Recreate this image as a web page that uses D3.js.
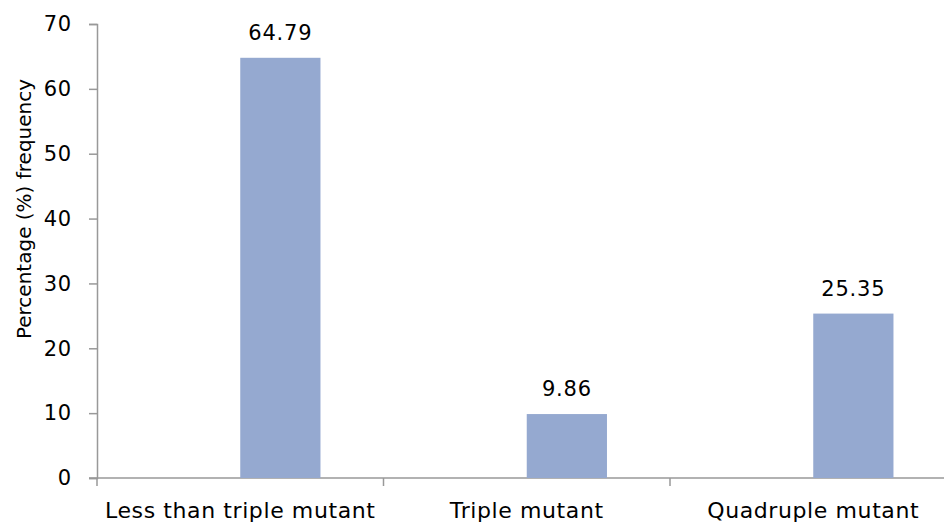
<!DOCTYPE html>
<html>
<head>
<meta charset="utf-8">
<script src="https://cdn.jsdelivr.net/npm/d3@7"></script>
<style>
  body { margin: 0; background: #fff; }
  text { font-family: "DejaVu Sans", Verdana, sans-serif; fill: #000; }
</style>
</head>
<body>
<script>
// chart data
const categories = ['Less than triple mutant', 'Triple mutant', 'Quadruple mutant'];
const values = [64.79, 9.86, 25.35];
const yTicks = [0, 10, 20, 30, 40, 50, 60, 70];

const width = 944, height = 524;
const margin = { left: 97, top: 24, bottom: 46 };

const svg = d3.select('body')
    .append('svg')
    .attr('width', width)
    .attr('height', height);

// band for each category, axis runs past the right edge like the original
const xScale = d3.scaleBand()
    .domain(categories)
    .range([margin.left, margin.left + 3 * 286.5]);

const yScale = d3.scaleLinear()
    .domain([0, 70])
    .range([height - margin.bottom, margin.top]);

const barWidth = xScale.bandwidth() * 0.28;

// y axis
const yAxis = svg.append('g')
    .attr('transform', `translate(${margin.left},0)`)
    .call(d3.axisLeft(yScale).tickValues(yTicks).tickSize(8).tickPadding(17));
yAxis.selectAll('text').style('font-size', '21px').style('letter-spacing', '0.8px');
yAxis.select('.domain').attr('stroke', '#999').attr('stroke-width', 1.5);
yAxis.selectAll('.tick line').attr('stroke', '#999').attr('stroke-width', 1.5);

// x axis with ticks on category boundaries
const xAxis = svg.append('g')
    .attr('transform', `translate(0,${yScale(0)})`);
xAxis.append('line')
    .attr('x1', margin.left - 8).attr('x2', width)
    .attr('stroke', '#999').attr('stroke-width', 1.5);
xAxis.selectAll('.bound')
    .data(categories)
    .enter().append('line')
    .attr('x1', d => xScale(d)).attr('x2', d => xScale(d))
    .attr('y1', 0).attr('y2', 8)
    .attr('stroke', '#999').attr('stroke-width', 1.5);
xAxis.selectAll('.lab')
    .data(categories)
    .enter().append('text')
    .attr('x', d => xScale(d) + xScale.bandwidth() / 2)
    .attr('y', 40)
    .attr('text-anchor', 'middle')
    .style('font-size', '22px')
    .style('letter-spacing', '0.6px')
    .text(d => d);

// bars start at the band centre
svg.selectAll('.bar')
    .data(values)
    .enter().append('rect')
    .attr('x', (d, i) => xScale(categories[i]) + xScale.bandwidth() / 2)
    .attr('y', d => yScale(d))
    .attr('width', barWidth)
    .attr('height', d => yScale(0) - yScale(d))
    .attr('fill', '#95a9d0');

// value labels
svg.selectAll('.val')
    .data(values)
    .enter().append('text')
    .attr('x', (d, i) => xScale(categories[i]) + xScale.bandwidth() / 2 + barWidth / 2)
    .attr('y', d => yScale(d) - 18)
    .attr('text-anchor', 'middle')
    .style('font-size', '21px')
    .style('letter-spacing', '0.8px')
    .text(d => d.toFixed(2));

// y axis title
svg.append('text')
    .attr('transform', 'translate(31,209) rotate(-90)')
    .attr('text-anchor', 'middle')
    .style('font-size', '20px')
    .text('Percentage (%) frequency');
</script>
</body>
</html>
